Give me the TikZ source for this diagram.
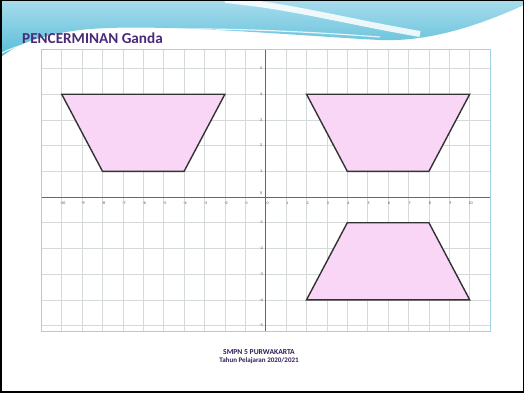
\documentclass[tikz,border=0pt]{standalone}
\usepackage{fontspec}
\setmainfont{Carlito}
\usetikzlibrary{positioning}
\definecolor{titlepurple}{RGB}{74,42,120}
\definecolor{footpurple}{RGB}{52,30,84}
\definecolor{trapfill}{RGB}{250,214,246}
\definecolor{gridgray}{RGB}{212,218,218}
\definecolor{boxblue}{RGB}{160,210,228}
\definecolor{swooshdark}{RGB}{86,188,216}
\definecolor{swooshlight}{RGB}{168,220,236}

\begin{document}
\begin{tikzpicture}[x=1pt, y=-1pt,
  gridline/.style={draw=gridgray, line width=.6pt},
  axis/.style={draw=black!60, line width=.8pt},
  tick/.style={font=\fontsize{4}{4.5}\selectfont, text=black!70, inner sep=0pt, anchor=base},
  trap/.style={draw=black!80, line width=1.4pt, fill=trapfill},
  footer/.style={font=\bfseries\fontsize{7.6}{8}\selectfont, text=footpurple, inner sep=0pt}
]
\useasboundingbox (0,0) rectangle (524,396);
\fill[white] (0,0) rectangle (524,396);
% top swoosh
\shade[top color=swooshlight, bottom color=swooshdark]
  (0,0) -- (524,0) -- (524,5) .. controls (480,25) and (430,42) .. (380,40)
  .. controls (300,36) and (150,22) .. (80,30) .. controls (40,35) and (15,45) .. (0,58) -- cycle;
\draw[white, line width=6pt, opacity=.85] (225,0) .. controls (290,6) and (340,20) .. (420,34);
\draw[white, line width=1.2pt, opacity=.8] (0,54) .. controls (40,32) and (150,20) .. (380,37);
\node[anchor=base west, font=\bfseries\fontsize{15.2}{16}\selectfont, text=titlepurple, inner sep=0pt]
  (title) at (22,44) {PENCERMINAN Ganda};
% coordinate plane
\begin{scope}[shift={(265.7,197)}, x=20.4pt, y=25.7pt]
  \foreach \i in {-10,...,10} \draw[gridline] (\i,-5.25) -- (\i,5.75);
  \foreach \j in {-5,...,5} \draw[gridline] (-11,\j) -- (11,\j);
  \draw[axis] (-11,0) -- (11,0);
  \draw[axis] (0,-5.25) -- (0,5.75);
  \draw[draw=boxblue, line width=1pt] (-11,-5.25) rectangle (11,5.75);
  \foreach \i in {-10,...,-1,1,2,...,10} \node[tick] (xl\i) at (\i+.05,-.3) {\i};
  \foreach \j in {-5,...,-1,1,2,...,5} \node[tick] (yl\j) at (-.22,\j-.05) {\j};
  \node[tick] (xl0) at (.1,-.3) {0};
  \node[tick] (yl0) at (-.22,.1) {0};
  % original
  \coordinate (a1) at (-10,4); \coordinate (b1) at (-2,4);
  \coordinate (c1) at (-4,1);  \coordinate (d1) at (-8,1);
  \draw[trap] (a1) -- (b1) -- (c1) -- (d1) -- cycle;
  % first image
  \coordinate (a2) at (2,4); \coordinate (b2) at (10,4);
  \coordinate (c2) at (8,1); \coordinate (d2) at (4,1);
  \draw[trap] (a2) -- (b2) -- (c2) -- (d2) -- cycle;
  % second image
  \coordinate (a3) at (2,-4); \coordinate (b3) at (10,-4);
  \coordinate (c3) at (8,-1); \coordinate (d3) at (4,-1);
  \draw[trap] (a3) -- (b3) -- (c3) -- (d3) -- cycle;
\end{scope}
\node[footer] (school) at (259,352) {SMPN 5 PURWAKARTA};
\node[footer, font=\bfseries\fontsize{7}{7.5}\selectfont, below=3pt of school] (year)
  {Tahun Pelajaran 2020/2021};
\draw[black, line width=1.5pt] (.75,.75) rectangle (523.25,392);
\end{tikzpicture}
\end{document}
